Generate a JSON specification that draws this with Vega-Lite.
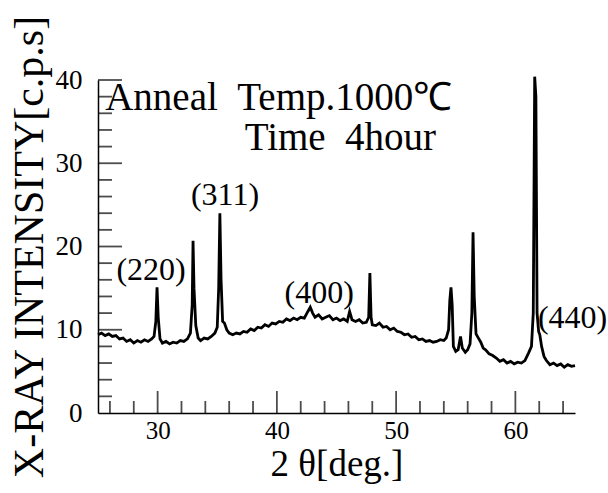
{
  "$schema": "https://vega.github.io/schema/vega-lite/v6.json",
  "autosize": {"type": "none"},
  "width": 477,
  "height": 333,
  "padding": {"left": 98, "top": 80, "right": 33, "bottom": 80},
  "background": "white",
  "config": {
    "view": {"stroke": null},
    "font": "Liberation Serif",
    "axis": {"grid": false, "ticks": false, "domainColor": "black", "domainWidth": 1.5, "labelColor": "black", "titleColor": "black", "labelFont": "Liberation Serif", "titleFont": "Liberation Serif", "titleFontWeight": "normal"}
  },
  "datasets": {
    "xrd": [
      {"x": 25.0, "y": 9.4}, {"x": 25.3, "y": 9.6}, {"x": 25.6, "y": 9.3}, {"x": 25.9, "y": 9.5}, {"x": 26.2, "y": 9.2},
      {"x": 26.5, "y": 9.3}, {"x": 26.8, "y": 8.9}, {"x": 27.1, "y": 9.0}, {"x": 27.4, "y": 8.6}, {"x": 27.7, "y": 8.8},
      {"x": 28.0, "y": 8.4}, {"x": 28.3, "y": 8.7}, {"x": 28.6, "y": 8.5}, {"x": 28.9, "y": 8.8}, {"x": 29.2, "y": 8.6},
      {"x": 29.5, "y": 8.9}, {"x": 29.7, "y": 9.2}, {"x": 29.85, "y": 11.0}, {"x": 29.95, "y": 15.1}, {"x": 30.05, "y": 11.5},
      {"x": 30.2, "y": 8.9}, {"x": 30.4, "y": 8.4}, {"x": 30.7, "y": 8.6}, {"x": 31.0, "y": 8.3}, {"x": 31.3, "y": 8.5},
      {"x": 31.6, "y": 8.4}, {"x": 31.9, "y": 8.7}, {"x": 32.2, "y": 8.6}, {"x": 32.5, "y": 8.9}, {"x": 32.75, "y": 9.6},
      {"x": 32.9, "y": 13.0}, {"x": 32.97, "y": 20.7}, {"x": 33.05, "y": 15.0}, {"x": 33.2, "y": 10.5}, {"x": 33.4, "y": 9.0},
      {"x": 33.6, "y": 8.7}, {"x": 33.9, "y": 9.0}, {"x": 34.2, "y": 8.9}, {"x": 34.5, "y": 9.2}, {"x": 34.8, "y": 9.6},
      {"x": 35.0, "y": 10.3}, {"x": 35.12, "y": 15.0}, {"x": 35.22, "y": 24.0}, {"x": 35.32, "y": 16.0}, {"x": 35.45, "y": 11.0},
      {"x": 35.6, "y": 10.8}, {"x": 35.8, "y": 10.0}, {"x": 36.0, "y": 9.6}, {"x": 36.3, "y": 9.4}, {"x": 36.6, "y": 9.6},
      {"x": 36.9, "y": 9.5}, {"x": 37.2, "y": 9.8}, {"x": 37.5, "y": 9.7}, {"x": 37.8, "y": 10.1}, {"x": 38.1, "y": 9.9},
      {"x": 38.4, "y": 10.3}, {"x": 38.7, "y": 10.2}, {"x": 39.0, "y": 10.6}, {"x": 39.3, "y": 10.4}, {"x": 39.6, "y": 10.8},
      {"x": 39.9, "y": 10.7}, {"x": 40.2, "y": 11.0}, {"x": 40.5, "y": 10.9}, {"x": 40.8, "y": 11.3}, {"x": 41.1, "y": 11.1},
      {"x": 41.4, "y": 11.4}, {"x": 41.7, "y": 11.2}, {"x": 42.0, "y": 11.5}, {"x": 42.3, "y": 11.4}, {"x": 42.6, "y": 12.2},
      {"x": 42.8, "y": 12.7}, {"x": 43.0, "y": 12.0}, {"x": 43.2, "y": 11.5}, {"x": 43.5, "y": 11.8}, {"x": 43.8, "y": 11.3},
      {"x": 44.1, "y": 11.5}, {"x": 44.4, "y": 11.7}, {"x": 44.7, "y": 11.2}, {"x": 45.0, "y": 11.4}, {"x": 45.3, "y": 11.1},
      {"x": 45.6, "y": 11.3}, {"x": 45.9, "y": 11.0}, {"x": 46.1, "y": 12.2}, {"x": 46.3, "y": 11.2}, {"x": 46.6, "y": 11.0},
      {"x": 46.9, "y": 11.2}, {"x": 47.2, "y": 10.8}, {"x": 47.5, "y": 10.9}, {"x": 47.7, "y": 11.5}, {"x": 47.8, "y": 16.8},
      {"x": 47.9, "y": 11.5}, {"x": 48.0, "y": 10.6}, {"x": 48.3, "y": 10.5}, {"x": 48.6, "y": 10.8}, {"x": 48.9, "y": 10.3},
      {"x": 49.2, "y": 10.4}, {"x": 49.5, "y": 10.0}, {"x": 49.8, "y": 10.2}, {"x": 50.1, "y": 9.8}, {"x": 50.4, "y": 9.7},
      {"x": 50.7, "y": 9.4}, {"x": 51.0, "y": 9.5}, {"x": 51.3, "y": 9.1}, {"x": 51.6, "y": 9.2}, {"x": 51.9, "y": 8.8},
      {"x": 52.2, "y": 8.9}, {"x": 52.5, "y": 8.6}, {"x": 52.8, "y": 8.7}, {"x": 53.1, "y": 8.5}, {"x": 53.4, "y": 8.6},
      {"x": 53.7, "y": 8.8}, {"x": 54.0, "y": 8.7}, {"x": 54.2, "y": 9.0}, {"x": 54.4, "y": 10.0}, {"x": 54.5, "y": 13.5},
      {"x": 54.6, "y": 15.1}, {"x": 54.7, "y": 13.0}, {"x": 54.8, "y": 8.0}, {"x": 55.0, "y": 7.4}, {"x": 55.2, "y": 7.6},
      {"x": 55.4, "y": 9.2}, {"x": 55.55, "y": 7.8}, {"x": 55.8, "y": 7.3}, {"x": 56.0, "y": 7.6}, {"x": 56.2, "y": 8.3},
      {"x": 56.35, "y": 12.0}, {"x": 56.45, "y": 21.7}, {"x": 56.55, "y": 14.0}, {"x": 56.7, "y": 9.5}, {"x": 56.9, "y": 9.0},
      {"x": 57.1, "y": 8.5}, {"x": 57.3, "y": 7.8}, {"x": 57.5, "y": 7.6}, {"x": 57.8, "y": 7.1}, {"x": 58.1, "y": 6.9},
      {"x": 58.4, "y": 6.6}, {"x": 58.7, "y": 6.2}, {"x": 59.0, "y": 6.4}, {"x": 59.3, "y": 6.0}, {"x": 59.6, "y": 6.2},
      {"x": 59.9, "y": 5.9}, {"x": 60.2, "y": 6.1}, {"x": 60.5, "y": 6.0}, {"x": 60.8, "y": 6.3}, {"x": 61.1, "y": 7.2},
      {"x": 61.35, "y": 8.0}, {"x": 61.5, "y": 12.0}, {"x": 61.62, "y": 40.4}, {"x": 61.72, "y": 38.0}, {"x": 61.82, "y": 12.0},
      {"x": 61.95, "y": 9.8}, {"x": 62.05, "y": 9.4}, {"x": 62.2, "y": 8.0}, {"x": 62.4, "y": 6.8}, {"x": 62.6, "y": 6.3},
      {"x": 62.9, "y": 5.8}, {"x": 63.2, "y": 6.0}, {"x": 63.5, "y": 5.7}, {"x": 63.8, "y": 5.9}, {"x": 64.1, "y": 5.5},
      {"x": 64.4, "y": 5.8}, {"x": 64.7, "y": 5.6}, {"x": 65.0, "y": 5.7}
    ],
    "peaks": [
      {"label": "(220)", "x": 29.45, "y": 16.0},
      {"label": "(311)", "x": 35.65, "y": 25.0},
      {"label": "(400)", "x": 43.55, "y": 13.2},
      {"label": "(440)", "x": 64.8, "y": 10.2}
    ],
    "notes": [
      {"label": "Anneal\u00a0\u00a0Temp.1000℃", "x": 25.6, "y": 36.4},
      {"label": "Time\u00a0\u00a04hour", "x": 37.3, "y": 31.6}
    ],
    "xticks": [
      {"v": 26, "k": "minor"}, {"v": 28, "k": "minor"}, {"v": 30, "k": "major"}, {"v": 32, "k": "minor"}, {"v": 34, "k": "minor"},
      {"v": 36, "k": "minor"}, {"v": 38, "k": "minor"}, {"v": 40, "k": "major"}, {"v": 42, "k": "minor"}, {"v": 44, "k": "minor"},
      {"v": 46, "k": "minor"}, {"v": 48, "k": "minor"}, {"v": 50, "k": "major"}, {"v": 52, "k": "minor"}, {"v": 54, "k": "minor"},
      {"v": 56, "k": "minor"}, {"v": 58, "k": "minor"}, {"v": 60, "k": "major"}, {"v": 62, "k": "minor"}, {"v": 64, "k": "minor"}
    ],
    "yticks": [
      {"v": 2, "k": "minor"}, {"v": 4, "k": "minor"}, {"v": 6, "k": "minor"}, {"v": 8, "k": "minor"}, {"v": 10, "k": "major"},
      {"v": 12, "k": "minor"}, {"v": 14, "k": "minor"}, {"v": 16, "k": "minor"}, {"v": 18, "k": "minor"}, {"v": 20, "k": "major"},
      {"v": 22, "k": "minor"}, {"v": 24, "k": "minor"}, {"v": 26, "k": "minor"}, {"v": 28, "k": "minor"}, {"v": 30, "k": "major"},
      {"v": 32, "k": "minor"}, {"v": 34, "k": "minor"}, {"v": 36, "k": "minor"}, {"v": 38, "k": "minor"}, {"v": 40, "k": "major"}
    ]
  },
  "layer": [
    {
      "data": {"name": "xrd"},
      "mark": {"type": "line", "color": "black", "strokeWidth": 2.8, "clip": false},
      "encoding": {
        "x": {"field": "x", "type": "quantitative", "scale": {"domain": [25, 65], "nice": false, "zero": false},
          "axis": {"title": "2 θ[deg.]", "titleFontSize": 37, "titlePadding": 3, "values": [30, 40, 50, 60], "labelFontSize": 25, "labelPadding": 5}},
        "y": {"field": "y", "type": "quantitative", "scale": {"domain": [0, 40], "nice": false},
          "axis": {"title": "X-RAY INTENSITY[c.p.s]", "titleFontSize": 42, "titlePadding": 4, "values": [0, 10, 20, 30, 40], "labelFontSize": 27, "labelPadding": 16}}
      }
    },
    {
      "data": {"name": "xticks"},
      "transform": [{"filter": "datum.k === 'minor'"}],
      "mark": {"type": "tick", "color": "black", "orient": "vertical", "thickness": 1.8, "size": 12, "yOffset": -6},
      "encoding": {"x": {"field": "v", "type": "quantitative"}, "y": {"datum": 0, "type": "quantitative"}}
    },
    {
      "data": {"name": "xticks"},
      "transform": [{"filter": "datum.k === 'major'"}],
      "mark": {"type": "tick", "color": "black", "orient": "vertical", "thickness": 1.8, "size": 22, "yOffset": -11},
      "encoding": {"x": {"field": "v", "type": "quantitative"}, "y": {"datum": 0, "type": "quantitative"}}
    },
    {
      "data": {"name": "yticks"},
      "transform": [{"filter": "datum.k === 'minor'"}],
      "mark": {"type": "tick", "color": "black", "orient": "horizontal", "thickness": 1.8, "size": 14, "xOffset": 7},
      "encoding": {"y": {"field": "v", "type": "quantitative"}, "x": {"datum": 25, "type": "quantitative"}}
    },
    {
      "data": {"name": "yticks"},
      "transform": [{"filter": "datum.k === 'major'"}],
      "mark": {"type": "tick", "color": "black", "orient": "horizontal", "thickness": 1.8, "size": 24, "xOffset": 12},
      "encoding": {"y": {"field": "v", "type": "quantitative"}, "x": {"datum": 25, "type": "quantitative"}}
    },
    {
      "data": {"name": "peaks"},
      "mark": {"type": "text", "fontSize": 32, "font": "Liberation Serif", "align": "center", "baseline": "alphabetic", "color": "black"},
      "encoding": {"x": {"field": "x", "type": "quantitative"}, "y": {"field": "y", "type": "quantitative"}, "text": {"field": "label"}}
    },
    {
      "data": {"name": "notes"},
      "mark": {"type": "text", "fontSize": 39, "font": "Liberation Serif", "align": "left", "baseline": "alphabetic", "color": "black"},
      "encoding": {"x": {"field": "x", "type": "quantitative"}, "y": {"field": "y", "type": "quantitative"}, "text": {"field": "label"}}
    }
  ]
}
